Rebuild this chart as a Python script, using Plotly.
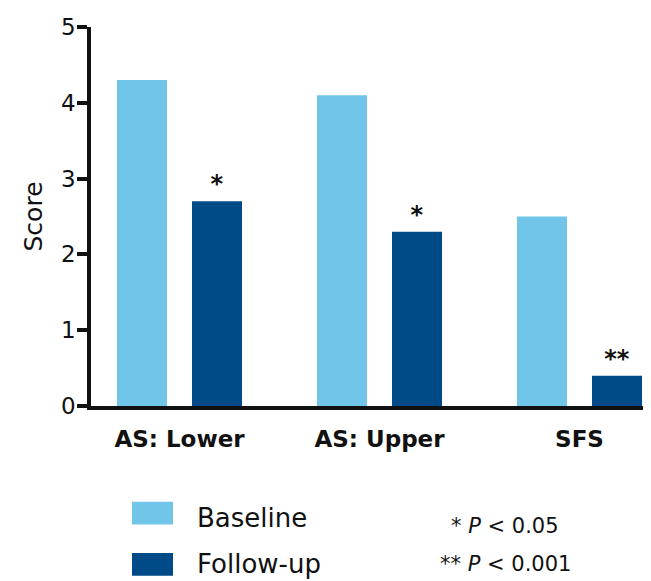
import plotly.graph_objects as go

categories = ["AS: Lower", "AS: Upper", "SFS"]
baseline = [4.3, 4.1, 2.5]
followup = [2.7, 2.3, 0.4]
significance = ["*", "*", "**"]
series_names = ["Baseline", "Follow-up"]
y_ticks = [0, 1, 2, 3, 4, 5]
footnotes = ["* <i>P</i> < 0.05", "** <i>P</i> < 0.001"]

LIGHT = "#71C5E8"
DARK = "#004B87"
FONT = "DejaVu Sans"

# page body has an 8px margin; work in window pixel coordinates
OFF = 8
WIN_W, WIN_H = 651, 581
W, H = WIN_W - OFF, WIN_H - OFF
PLOT_L, PLOT_R, PLOT_T, PLOT_B = 91, 645, 22, 406   # window pixels
ML = PLOT_L - OFF
MT = PLOT_T - OFF
MR = WIN_W - PLOT_R
MB = WIN_H - PLOT_B
PW = PLOT_R - PLOT_L
PH = PLOT_B - PLOT_T


def px(xp):
    return (xp - PLOT_L) / PW


def py(yp):
    return (PLOT_B - yp) / PH


fig = go.Figure()
fig.add_trace(go.Bar(
    x=categories, y=baseline, name=series_names[0],
    marker=dict(color=LIGHT, line=dict(width=0)),
    offset=-0.3125, width=0.25, showlegend=False,
))
fig.add_trace(go.Bar(
    x=categories, y=followup, name=series_names[1],
    marker=dict(color=DARK, line=dict(width=0)),
    offset=0.0625, width=0.25, showlegend=False,
    text=significance, textposition="outside",
    textfont=dict(family=FONT, size=24, color="#111", weight="bold"),
    cliponaxis=False,
))

fig.update_layout(
    width=W, height=H,
    margin=dict(l=ML, r=MR, t=MT, b=MB, pad=0),
    paper_bgcolor="white", plot_bgcolor="white",
    barmode="overlay",
    font=dict(family=FONT, color="#111"),
    xaxis=dict(
        type="category", range=[-0.4425, 2.3275],
        showline=True, linecolor="#111", linewidth=3.5,
        ticks="", showgrid=False, zeroline=False,
        tickfont=dict(family=FONT, size=23, color="#111", weight="bold"),
        ticklabelstandoff=10,
    ),
    yaxis=dict(
        range=[0, 5], tickvals=y_ticks,
        showline=True, linecolor="#111", linewidth=3.5,
        ticks="outside", ticklen=10, tickwidth=3.5, tickcolor="#111",
        showgrid=False, zeroline=False,
        tickfont=dict(family=FONT, size=23, color="#111"),
        ticklabelstandoff=-3,
        title=dict(text="Score", font=dict(family=FONT, size=25, color="#111"), standoff=12),
    ),
)

# custom legend
legend_colors = [LIGHT, DARK]
legend_rows = [(503, 526), (555, 578)]
text_shift = [5, 0]
for name, col, (y0, y1), ds in zip(series_names, legend_colors, legend_rows, text_shift):
    fig.add_shape(type="rect", xref="paper", yref="paper",
                  x0=px(132), x1=px(173), y0=py(y0), y1=py(y1),
                  fillcolor=col, line=dict(width=0))
    fig.add_annotation(xref="paper", yref="paper", x=px(195), y=py((y0 + y1) / 2 + ds),
                       text=name, showarrow=False, xanchor="left", yanchor="middle",
                       font=dict(family=FONT, size=26, color="#111"))

for txt, yc in zip(footnotes, [528, 566]):
    fig.add_annotation(xref="paper", yref="paper", x=px(505), y=py(yc),
                       text=txt, showarrow=False, xanchor="center", yanchor="middle",
                       font=dict(family=FONT, size=21, color="#111"))

fig.write_html("out.html")
